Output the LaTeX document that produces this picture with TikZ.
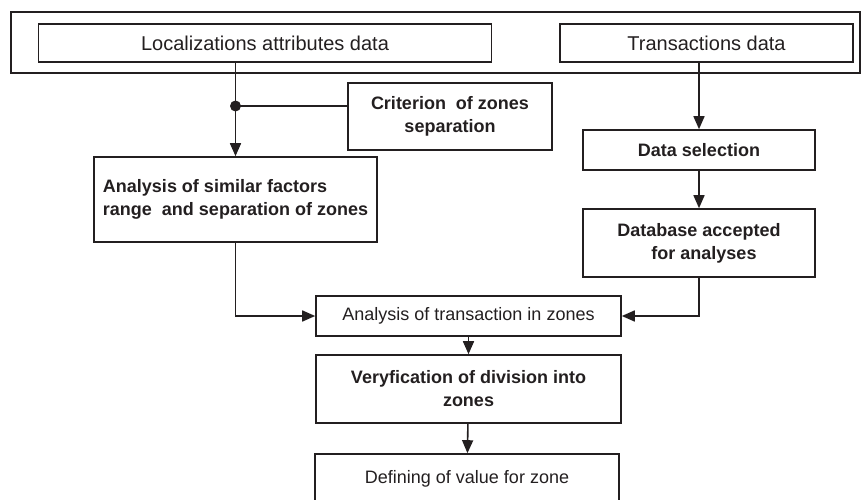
\documentclass[tikz,border=0pt]{standalone}
\usepackage{fontspec}
\setmainfont{Liberation Sans}
\usetikzlibrary{arrows.meta}
\definecolor{ink}{HTML}{231F20}
\tikzset{
  box/.style={draw=ink, line width=1.6pt, rectangle, inner sep=2pt, text=ink,
    font=\fontsize{18}{23}\selectfont, align=center},
  bigbox/.style={box, font=\fontsize{20}{24}\selectfont},
  flow/.style={draw=ink, line width=1.6pt, -{Triangle[length=13pt,width=11pt]}}
}
\newcommand{\flowbox}[5]{\node[box, minimum width=#4, minimum height=#5, #3] (#1) {#2};}
\newcommand{\flowedge}[3]{\draw[flow, #3] #1 -- #2;}

\begin{document}
\begin{tikzpicture}[x=1pt, y=-1pt]
\useasboundingbox (0,0) rectangle (864,500);

% input frame
\flowbox{frame}{}{at={(435.5,42.5)}}{849pt}{61pt}
\flowbox{locdata}{Localizations attributes data}{bigbox, at={(265,43)}}{453pt}{38pt}
\flowbox{transdata}{Transactions data}{bigbox, at={(706.5,43)}}{293pt}{38pt}

\flowbox{crit}{\bfseries Criterion\ \ of zones\\\bfseries separation}{at={(450,116.5)}}{204pt}{67pt}
\flowbox{simil}{\bfseries Analysis of similar factors\\\bfseries range\ \ and separation of zones}{at={(235.5,199.5)}, align=left}{283pt}{85pt}
\flowbox{select}{\bfseries Data selection}{at={(699,150)}}{232pt}{40pt}
\flowbox{dbase}{\bfseries Database accepted\\\bfseries \ \ for analyses}{at={(699,243)}}{232pt}{68pt}

\flowbox{analysis}{Analysis of transaction in zones}{at={(468.5,316)}}{305pt}{40pt}
\flowbox{verify}{\bfseries Veryfication of division into\\\bfseries zones}{at={(468.5,389)}}{305pt}{68pt}
\flowbox{define}{Defining of value for zone}{at={(467,479)}}{304pt}{50pt}

\coordinate (split) at (235.5,106);
\fill[ink] (split) circle (5.5pt);
\draw[ink, line width=1.6pt] (crit.west |- split) -- (split);

\flowedge{(split |- locdata.south)}{(simil.north)}{}
\flowedge{(select.north |- transdata.south)}{(select.north)}{}
\flowedge{(select)}{(dbase)}{}
\draw[flow] (simil.south) |- (analysis.west);
\draw[flow] (dbase.south) |- (analysis.east);
\flowedge{(analysis)}{(verify)}{}
\flowedge{(verify)}{(define)}{}
\end{tikzpicture}
\end{document}
